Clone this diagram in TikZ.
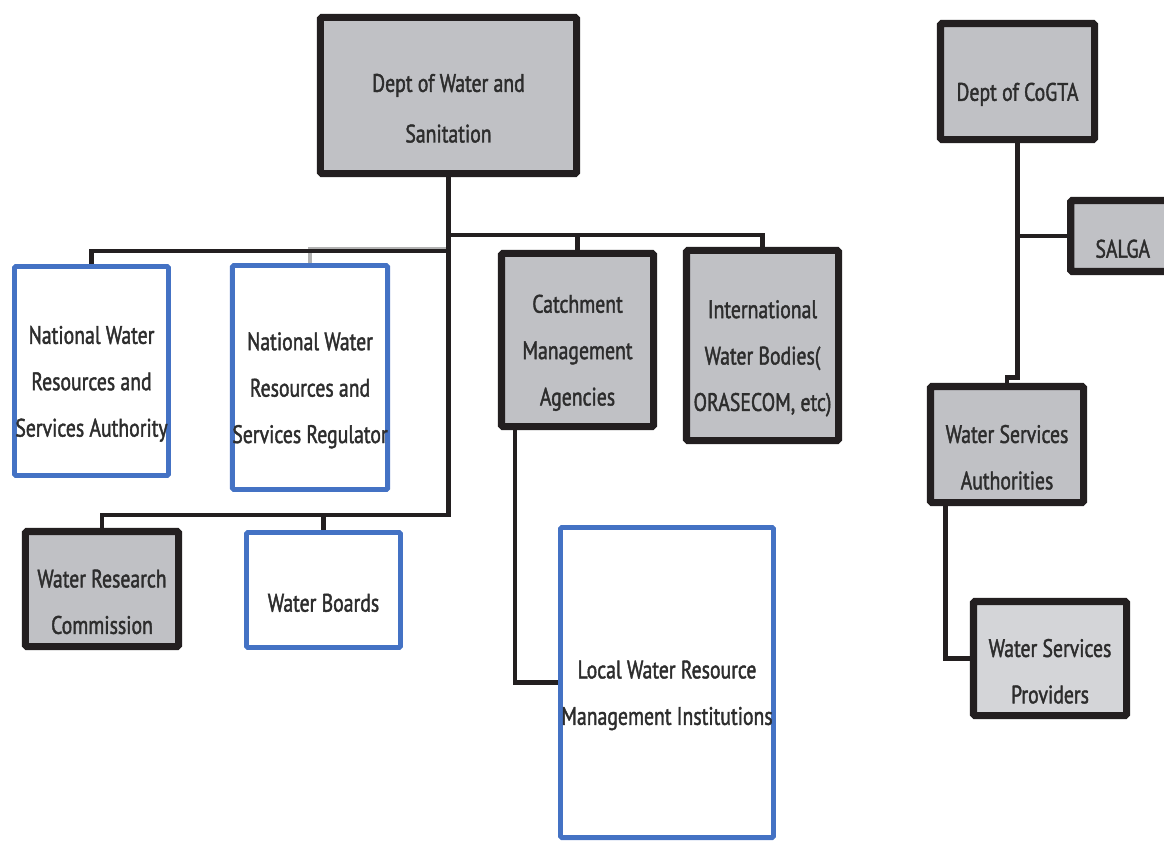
\documentclass[tikz,border=0pt]{standalone}
\usepackage{fontspec}
\setmainfont{PT Sans}[FakeStretch=0.78, FakeBold=1.6]
\definecolor{boxgrey}{RGB}{192,193,197}
\definecolor{palegrey}{RGB}{212,213,216}
\definecolor{edge}{RGB}{35,31,32}
\definecolor{officeblue}{RGB}{68,114,196}
\definecolor{inkgrey}{RGB}{45,45,45}
\tikzset{
  unit/.style = {align=center, inner sep=0pt, rounded corners=1pt,
                 minimum width=3.825cm, text=inkgrey,
                 font=\fontsize{18}{33}\selectfont},
  greybox/.style = {unit, draw=edge, fill=boxgrey, line width=5pt},
  bluebox/.style = {unit, draw=officeblue, fill=white, line width=3.5pt},
  link/.style = {draw=edge, line width=3.2pt},
  stub/.style = {draw=black!30, line width=3pt}
}

\begin{document}
\begin{tikzpicture}[x=0.025cm, y=-0.025cm]
	\def\gap{\rule{0pt}{31pt}}
	\useasboundingbox (0,0) rectangle (1164,842);
	
	% Dept of Water and Sanitation
	\node[greybox, minimum width=6.4cm, minimum height=3.9cm, font=\fontsize{18}{36}\selectfont] (dws) at (448.5,95.5) {\gap Dept of Water and\\Sanitation};
	
	% First row
	\node[bluebox, minimum width=3.85cm, minimum height=5.225cm] (nwrsa) at (91.5,371) {\gap National Water\\Resources and\\Services Authority};
	\node[bluebox, minimum height=5.6cm] (nwrsr) at (310,377.5) {\gap National Water\\Resources and\\Services Regulator};
	\node[greybox, minimum width=3.8cm, minimum height=4.325cm] (cma) at (577.5,340) {\gap Catchment\\Management\\Agencies};
	\node[greybox, minimum width=3.8cm, minimum height=4.75cm] (iwb) at (762.5,345.5) {\gap International\\Water Bodies(\\ORASECOM, etc)};
	
	% Second row
	\node[greybox, minimum height=2.875cm] (wrc) at (102,589) {\gap Water Research\\Commission};
	\node[bluebox, minimum width=3.85cm, minimum height=2.875cm] (wb) at (323.5,590) {\gap Water Boards};
	\node[bluebox, minimum width=5.325cm, minimum height=7.75cm] (lwrmi) at (667,682.5) {\gap Local Water Resource\\Management Institutions};
	
	% CoGTA side
	\node[greybox, minimum width=3.85cm, minimum height=2.9cm] (cogta) at (1017.5,81.5) {\gap Dept of CoGTA};
	\node[greybox, minimum width=2.6cm, minimum height=1.775cm] (salga) at (1122.75,236) {\gap SALGA};
	\node[greybox, minimum height=2.9cm] (wsa) at (1007,444.5) {\gap Water Services\\Authorities};
	\node[greybox, fill=palegrey, minimum height=2.85cm] (wsp) at (1050,658.5) {\gap Water Services\\Providers};
	
	% Bus lines
	\coordinate (lowbus) at (448.5,515);
	\coordinate (leftbus) at (448.5,251);
	\coordinate (rightbus) at (448.5,235);
	\draw[stub] (nwrsr.north) |- ([yshift=1.5pt]leftbus);
	\draw[link] (dws.south) -- (lowbus) -| (wrc.north);
	\draw[link] (lowbus -| wb.north) -- (wb.north);
	\draw[link] (leftbus) -| (nwrsa.north);
	\draw[link] (rightbus) -| (iwb.north);
	\draw[link] (rightbus -| cma.north) -- (cma.north);
	\draw[link] ([xshift=12pt]cma.south west) |- (lwrmi.west);
	
	% CoGTA links
	\draw[link] (cogta.south) |- ([yshift=4pt]wsa.north) -- (wsa.north);
	\draw[link] (cogta.south |- salga.west) -- (salga.west);
	\draw[link] ([xshift=13pt]wsa.south west) |- (wsp.west);
	
\end{tikzpicture}
\end{document}
